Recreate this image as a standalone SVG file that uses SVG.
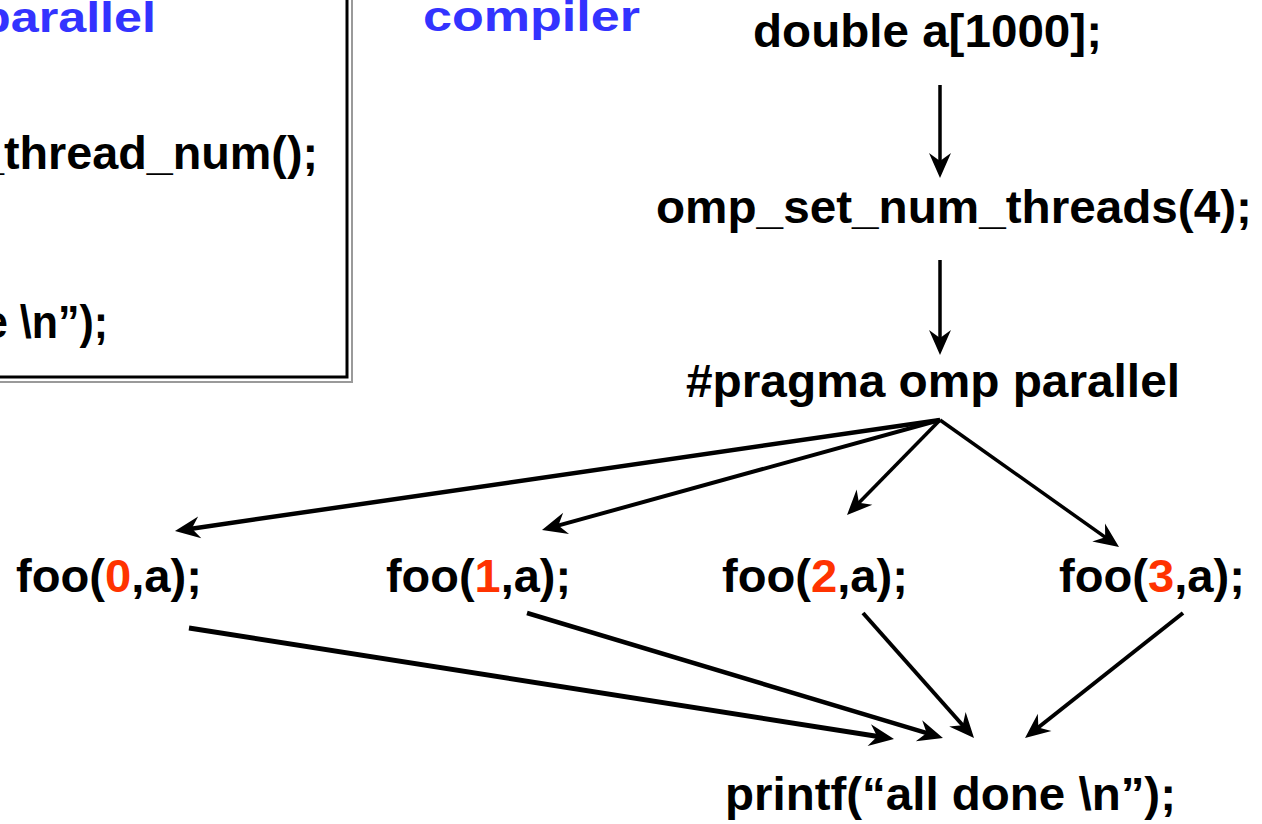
<svg xmlns="http://www.w3.org/2000/svg" width="1262" height="824" viewBox="0 0 1262 824">
<style>
  .t { font-family: "Liberation Sans", Arial, Helvetica, sans-serif; font-weight: bold; font-size: 46px; fill: #000; }
  .b { font-family: "Liberation Sans", Arial, Helvetica, sans-serif; font-weight: bold; font-size: 42px; fill: #3333FF; }
  .r { fill: #FF3300; }
  .c { stroke: #000; fill: none; stroke-linecap: butt; marker-end: url(#ah); }
</style>
<defs>
  <marker id="ah" markerUnits="userSpaceOnUse" viewBox="-30 -15 40 30" markerWidth="40" markerHeight="30" refX="0" refY="0" orient="auto">
    <path d="M8,0 L-17,-11 L-9,0 L-17,11 Z" fill="#000"/>
  </marker>
</defs>
<rect width="1262" height="824" fill="#fff"/>

<g id="code-box">
  <rect x="-20" y="-20" width="370" height="400" fill="none" stroke="#9a9a9a" stroke-width="2" transform="translate(2,2)"/>
  <rect x="-20" y="-20" width="367" height="397" fill="#fff" stroke="#000" stroke-width="3"/>
  <text class="b" x="-20" y="32" textLength="176" lengthAdjust="spacingAndGlyphs">parallel</text>
  <text class="t" x="318" y="169" text-anchor="end" textLength="340" lengthAdjust="spacingAndGlyphs">_thread_num();</text>
  <text class="t" x="108" y="338" text-anchor="end" textLength="124" lengthAdjust="spacingAndGlyphs">e \n”);</text>
</g>

<g id="compiler-label">
  <text class="b" x="423" y="31" textLength="217" lengthAdjust="spacingAndGlyphs">compiler</text>
</g>

<g id="n-double">
  <text class="t" x="753" y="47" textLength="349" lengthAdjust="spacingAndGlyphs">double a[1000];</text>
</g>
<g id="n-setthreads">
  <text class="t" x="656" y="223" textLength="596" lengthAdjust="spacingAndGlyphs">omp_set_num_threads(4);</text>
</g>
<g id="n-pragma">
  <text class="t" x="686" y="397" textLength="494" lengthAdjust="spacingAndGlyphs">#pragma omp parallel</text>
</g>
<g id="n-foo0">
  <text class="t" x="16" y="592" textLength="186" lengthAdjust="spacingAndGlyphs">foo(<tspan class="r">0</tspan>,a);</text>
</g>
<g id="n-foo1">
  <text class="t" x="386" y="592" textLength="185" lengthAdjust="spacingAndGlyphs">foo(<tspan class="r">1</tspan>,a);</text>
</g>
<g id="n-foo2">
  <text class="t" x="722" y="592" textLength="186" lengthAdjust="spacingAndGlyphs">foo(<tspan class="r">2</tspan>,a);</text>
</g>
<g id="n-foo3">
  <text class="t" x="1059" y="592" textLength="186" lengthAdjust="spacingAndGlyphs">foo(<tspan class="r">3</tspan>,a);</text>
</g>
<g id="n-printf">
  <text class="t" x="725" y="810" textLength="451" lengthAdjust="spacingAndGlyphs">printf(“all done \n”);</text>
</g>

<g id="connectors">
  <line class="c" stroke-width="3.5" x1="940" y1="85" x2="940" y2="170"/>
  <line class="c" stroke-width="3.5" x1="940" y1="260" x2="940" y2="347"/>
  <line class="c" stroke-width="4.5" x1="940" y1="420" x2="182.9" y2="529.9"/>
  <line class="c" stroke-width="4" x1="940" y1="420" x2="549.7" y2="527.9"/>
  <line class="c" stroke-width="3.5" x1="940" y1="420" x2="852.6" y2="509.3"/>
  <line class="c" stroke-width="3.5" x1="940" y1="420" x2="1112.5" y2="542.4"/>
  <line class="c" stroke-width="5" x1="189" y1="628" x2="886.1" y2="737.8"/>
  <line class="c" stroke-width="4.5" x1="527" y1="613" x2="935.3" y2="735.7"/>
  <line class="c" stroke-width="4" x1="863" y1="613" x2="968.7" y2="732.0"/>
  <line class="c" stroke-width="4" x1="1183" y1="613" x2="1031.3" y2="733.0"/>
</g>
</svg>
